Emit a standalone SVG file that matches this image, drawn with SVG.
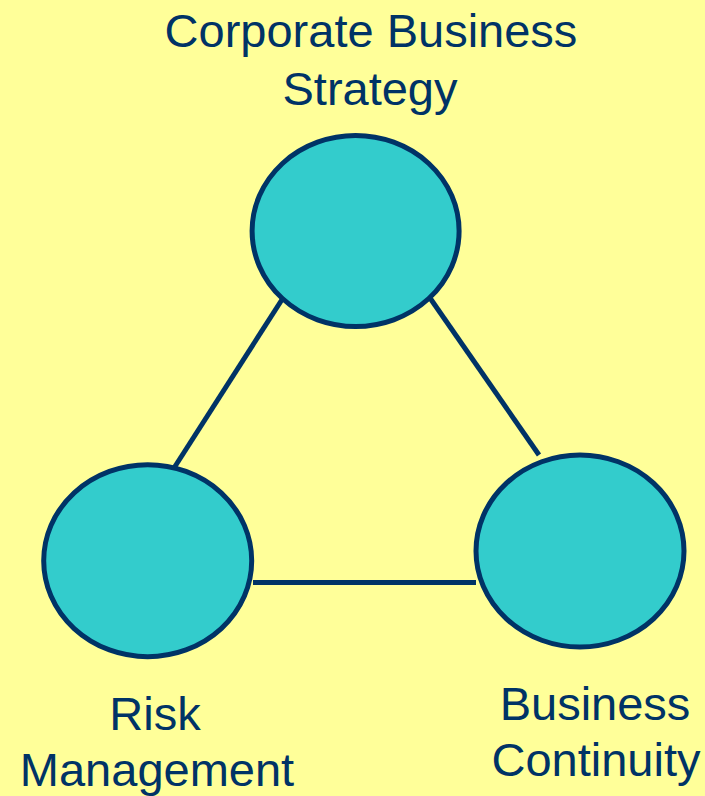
<svg xmlns="http://www.w3.org/2000/svg" width="705" height="796" viewBox="0 0 705 796">
<style>
.node{fill:#33CCCC;stroke:#003366;stroke-width:5}
.edge{stroke:#003366;stroke-width:5;fill:none}
.lbl{font-family:"Liberation Sans",Arial,sans-serif;font-size:47px;fill:#003366;text-anchor:middle}
</style>
<rect width="705" height="796" fill="#FFFF99"/>
<g id="connectors">
<line class="edge" x1="283" y1="298" x2="174" y2="468"/>
<line class="edge" x1="430" y1="298" x2="539" y2="455"/>
<line class="edge" x1="253" y1="582.5" x2="476" y2="582.5"/>
</g>
<g id="strategy">
<ellipse class="node" cx="355.6" cy="231" rx="103.5" ry="95.5"/>
<text class="lbl" x="371" y="47">Corporate Business</text>
<text class="lbl" x="370" y="105">Strategy</text>
</g>
<g id="risk">
<ellipse class="node" cx="147.7" cy="560.7" rx="104" ry="96"/>
<text class="lbl" x="155" y="730">Risk</text>
<text class="lbl" x="157" y="786">Management</text>
</g>
<g id="continuity">
<ellipse class="node" cx="580" cy="551" rx="104" ry="96"/>
<text class="lbl" x="595" y="720">Business</text>
<text class="lbl" x="596" y="776">Continuity</text>
</g>
</svg>
